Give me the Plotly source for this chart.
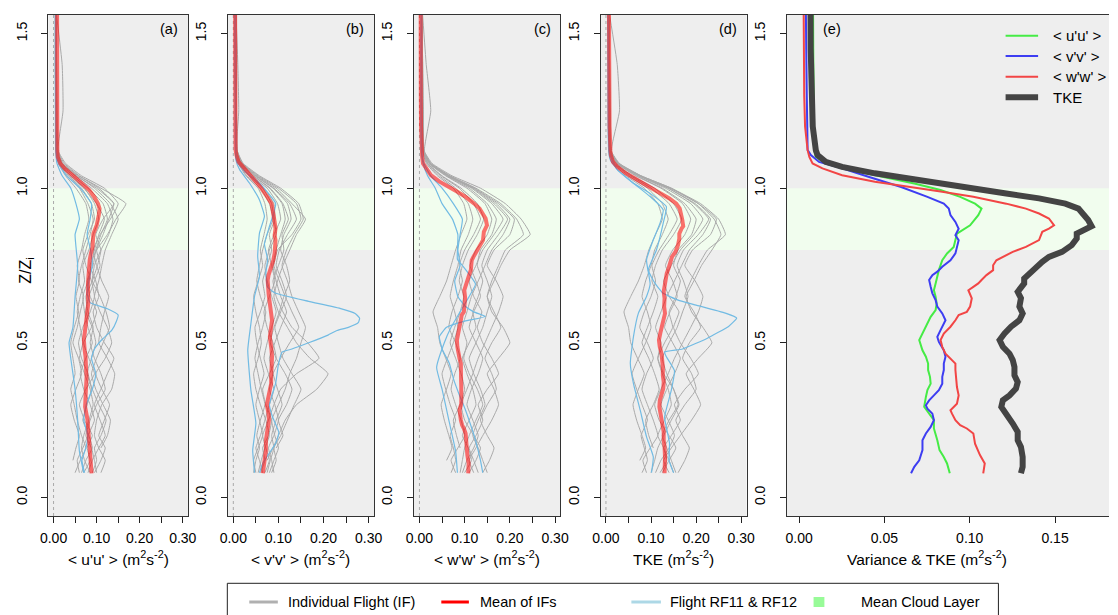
import plotly.graph_objects as go

W, H = 1118, 615

# ---------------- data ----------------
Z_LEVELS = [0.08, 0.12, 0.16, 0.20, 0.25, 0.30, 0.35, 0.40, 0.45, 0.50, 0.55, 0.60, 0.65,
            0.70, 0.75, 0.80, 0.85, 0.90, 0.95, 1.00, 1.04, 1.08, 1.12, 1.25, 1.40, 1.56]

UU_FLIGHTS = [
    [0.070,0.085,0.078,0.090,0.072,0.060,0.075,0.095,0.082,0.070,0.088,0.100,0.085,0.078,0.092,0.098,0.110,0.125,0.115,0.080,0.045,0.018,0.008,0.006,0.005,0.005],
    [0.095,0.110,0.120,0.105,0.118,0.130,0.112,0.098,0.120,0.135,0.125,0.108,0.095,0.105,0.112,0.120,0.135,0.150,0.132,0.095,0.055,0.022,0.010,0.008,0.007,0.006],
    [0.060,0.055,0.068,0.080,0.095,0.085,0.070,0.062,0.075,0.090,0.080,0.072,0.068,0.080,0.088,0.095,0.105,0.118,0.100,0.070,0.038,0.015,0.007,0.006,0.005,0.005],
    [None,0.045,0.052,0.060,0.048,0.040,0.052,0.065,0.058,0.045,0.055,0.062,0.070,0.058,0.065,0.075,0.085,0.092,0.080,0.060,0.032,0.013,0.006,0.005,0.004,0.004],
    [0.080,0.090,0.105,0.120,0.108,0.095,0.110,0.125,0.140,0.118,0.100,0.092,0.105,0.098,0.085,0.100,0.125,0.145,0.168,0.110,0.060,0.025,0.010,0.022,0.020,0.007],
    [0.100,0.095,0.088,0.075,0.085,0.100,0.120,0.110,0.095,0.085,0.092,0.080,0.075,0.090,0.102,0.110,0.098,0.115,0.140,0.105,0.058,0.020,0.009,0.007,0.006,0.006],
    [0.065,0.075,0.090,0.082,0.068,0.078,0.088,0.080,0.065,0.058,0.068,0.085,0.095,0.088,0.075,0.068,0.080,0.095,0.088,0.065,0.035,0.014,0.007,0.006,0.005,0.005],
    [None,None,0.110,0.125,0.132,0.115,0.098,0.088,0.100,0.115,0.130,0.122,0.108,0.090,0.095,0.110,0.128,0.138,0.125,0.088,0.050,0.019,0.008,0.006,0.006,0.005],
    [0.085,0.072,0.065,0.070,0.082,0.092,0.085,0.072,0.060,0.068,0.062,0.055,0.062,0.072,0.068,0.082,0.092,0.105,0.095,0.072,0.040,0.016,0.007,0.006,0.005,0.005],
    [0.110,0.120,0.105,0.095,0.100,0.112,0.135,0.142,0.125,0.105,0.110,0.118,0.128,0.112,0.100,0.092,0.108,0.132,0.150,0.118,0.065,0.028,0.011,0.008,0.007,0.006],
    [0.050,0.062,0.075,0.065,0.055,0.048,0.040,0.050,0.045,0.040,0.048,0.058,0.052,0.060,0.055,0.065,0.072,0.082,0.075,0.052,0.028,0.011,0.006,0.005,0.004,0.004],
    [0.090,0.100,0.095,0.110,0.122,0.105,0.090,0.078,0.088,0.098,0.090,0.075,0.082,0.095,0.108,0.100,0.115,0.128,0.140,0.100,0.052,0.020,0.009,0.007,0.006,0.006],
]

VV_FLIGHTS = [
    [0.060,0.070,0.065,0.078,0.085,0.072,0.065,0.080,0.095,0.088,0.075,0.068,0.080,0.092,0.085,0.078,0.090,0.105,0.098,0.075,0.040,0.015,0.007,0.006,0.005,0.005],
    [0.085,0.095,0.090,0.105,0.120,0.135,0.150,0.130,0.110,0.100,0.092,0.105,0.118,0.108,0.095,0.102,0.120,0.140,0.125,0.090,0.050,0.018,0.008,0.006,0.006,0.005],
    [0.045,0.050,0.058,0.052,0.060,0.070,0.062,0.055,0.048,0.055,0.065,0.072,0.060,0.052,0.058,0.065,0.075,0.088,0.080,0.060,0.030,0.012,0.006,0.005,0.004,0.004],
    [None,0.075,0.088,0.100,0.115,0.140,0.185,0.210,0.170,0.140,0.120,0.100,0.090,0.098,0.110,0.125,0.140,0.160,0.130,0.095,0.052,0.020,0.009,0.007,0.006,0.006],
    [0.070,0.080,0.072,0.065,0.078,0.090,0.105,0.140,0.190,0.165,0.130,0.110,0.095,0.088,0.100,0.112,0.108,0.122,0.110,0.082,0.045,0.016,0.007,0.012,0.010,0.006],
    [0.090,0.085,0.078,0.090,0.100,0.092,0.080,0.088,0.105,0.125,0.145,0.130,0.115,0.102,0.090,0.098,0.130,0.150,0.140,0.100,0.055,0.020,0.008,0.007,0.006,0.005],
    [0.055,0.062,0.070,0.080,0.072,0.060,0.050,0.045,0.055,0.062,0.058,0.050,0.045,0.055,0.065,0.060,0.068,0.075,0.070,0.055,0.028,0.011,0.005,0.005,0.004,0.004],
    [None,None,0.095,0.110,0.100,0.118,0.130,0.115,0.095,0.082,0.090,0.102,0.112,0.125,0.118,0.105,0.112,0.128,0.120,0.088,0.048,0.018,0.008,0.006,0.005,0.005],
    [0.065,0.058,0.050,0.060,0.070,0.080,0.090,0.078,0.068,0.075,0.085,0.095,0.085,0.075,0.070,0.080,0.095,0.090,0.085,0.065,0.035,0.013,0.006,0.005,0.005,0.004],
    [0.080,0.090,0.100,0.092,0.085,0.100,0.115,0.125,0.140,0.150,0.160,0.145,0.130,0.120,0.108,0.118,0.135,0.155,0.145,0.105,0.058,0.022,0.009,0.007,0.006,0.006],
    [0.050,0.045,0.055,0.065,0.058,0.050,0.058,0.068,0.060,0.052,0.048,0.060,0.070,0.065,0.075,0.085,0.080,0.092,0.090,0.068,0.036,0.014,0.006,0.005,0.005,0.004],
    [0.075,0.082,0.090,0.085,0.095,0.108,0.098,0.088,0.080,0.092,0.105,0.118,0.105,0.095,0.088,0.095,0.105,0.115,0.108,0.080,0.044,0.016,0.007,0.006,0.005,0.005],
]

WW_FLIGHTS = [
    [0.100,0.115,0.108,0.095,0.110,0.125,0.118,0.105,0.095,0.110,0.125,0.118,0.130,0.140,0.128,0.135,0.160,0.170,0.150,0.110,0.060,0.022,0.009,0.007,0.006,0.006],
    [0.140,0.155,0.165,0.150,0.135,0.150,0.170,0.160,0.145,0.160,0.180,0.165,0.150,0.160,0.175,0.190,0.230,0.215,0.180,0.125,0.068,0.025,0.010,0.008,0.007,0.006],
    [0.080,0.070,0.085,0.100,0.092,0.080,0.070,0.078,0.090,0.080,0.065,0.072,0.085,0.095,0.088,0.100,0.120,0.135,0.120,0.088,0.048,0.018,0.008,0.006,0.005,0.005],
    [None,0.060,0.072,0.065,0.055,0.048,0.060,0.070,0.058,0.045,0.040,0.030,0.045,0.060,0.070,0.080,0.092,0.105,0.098,0.075,0.040,0.015,0.007,0.005,0.005,0.004],
    [0.120,0.110,0.125,0.140,0.160,0.175,0.165,0.150,0.175,0.200,0.185,0.160,0.150,0.165,0.180,0.200,0.245,0.225,0.190,0.135,0.072,0.028,0.011,0.025,0.015,0.007],
    [0.095,0.105,0.120,0.130,0.118,0.105,0.115,0.130,0.140,0.125,0.110,0.120,0.135,0.125,0.112,0.125,0.150,0.160,0.145,0.105,0.058,0.021,0.009,0.007,0.006,0.005],
    [0.150,0.140,0.130,0.118,0.130,0.145,0.135,0.120,0.110,0.125,0.140,0.150,0.160,0.150,0.138,0.150,0.175,0.195,0.165,0.118,0.064,0.024,0.010,0.008,0.007,0.006],
    [None,None,0.090,0.082,0.075,0.090,0.100,0.092,0.080,0.068,0.078,0.090,0.098,0.088,0.095,0.108,0.128,0.142,0.128,0.092,0.050,0.019,0.008,0.006,0.005,0.005],
    [0.110,0.125,0.135,0.120,0.100,0.092,0.105,0.118,0.130,0.145,0.160,0.175,0.185,0.170,0.150,0.165,0.200,0.210,0.175,0.122,0.066,0.025,0.010,0.008,0.007,0.006],
    [0.070,0.080,0.075,0.068,0.080,0.068,0.058,0.050,0.062,0.075,0.085,0.078,0.068,0.075,0.085,0.092,0.108,0.118,0.108,0.080,0.044,0.017,0.007,0.006,0.005,0.005],
    [0.130,0.120,0.110,0.125,0.140,0.130,0.150,0.175,0.160,0.140,0.128,0.138,0.120,0.110,0.125,0.140,0.165,0.185,0.160,0.115,0.062,0.023,0.009,0.007,0.006,0.006],
    [0.090,0.095,0.100,0.110,0.125,0.140,0.128,0.110,0.098,0.105,0.095,0.105,0.115,0.130,0.145,0.160,0.185,0.200,0.170,0.120,0.065,0.024,0.010,0.007,0.006,0.006],
]

TKE_FLIGHTS = [
    [0.120,0.135,0.128,0.115,0.130,0.145,0.138,0.125,0.115,0.130,0.148,0.140,0.155,0.165,0.150,0.160,0.190,0.200,0.175,0.125,0.068,0.025,0.010,0.008,0.007,0.007],
    [0.160,0.175,0.185,0.170,0.155,0.175,0.200,0.190,0.170,0.185,0.210,0.195,0.175,0.188,0.205,0.225,0.265,0.250,0.210,0.145,0.078,0.028,0.011,0.009,0.008,0.007],
    [0.090,0.082,0.098,0.115,0.105,0.092,0.080,0.090,0.105,0.092,0.075,0.085,0.100,0.110,0.102,0.118,0.140,0.158,0.140,0.100,0.055,0.020,0.009,0.007,0.006,0.006],
    [None,0.075,0.088,0.080,0.068,0.060,0.072,0.085,0.070,0.055,0.050,0.040,0.055,0.072,0.085,0.095,0.110,0.125,0.115,0.085,0.045,0.017,0.007,0.006,0.005,0.005],
    [0.140,0.128,0.145,0.165,0.190,0.210,0.195,0.178,0.205,0.235,0.215,0.190,0.178,0.195,0.212,0.235,0.255,0.240,0.205,0.145,0.078,0.030,0.012,0.030,0.025,0.008],
    [0.110,0.122,0.140,0.152,0.138,0.122,0.135,0.152,0.165,0.148,0.130,0.142,0.158,0.148,0.132,0.148,0.175,0.188,0.170,0.122,0.066,0.024,0.010,0.008,0.007,0.006],
    [0.155,0.145,0.135,0.125,0.140,0.160,0.150,0.135,0.125,0.140,0.158,0.170,0.182,0.172,0.158,0.172,0.205,0.228,0.195,0.138,0.074,0.027,0.011,0.009,0.008,0.007],
    [None,None,0.105,0.095,0.088,0.105,0.118,0.108,0.095,0.080,0.092,0.105,0.115,0.102,0.110,0.125,0.150,0.168,0.150,0.108,0.058,0.022,0.009,0.007,0.006,0.006],
    [0.125,0.140,0.155,0.140,0.118,0.108,0.122,0.138,0.152,0.170,0.188,0.205,0.215,0.198,0.175,0.192,0.232,0.245,0.205,0.142,0.076,0.028,0.011,0.009,0.008,0.007],
    [0.080,0.092,0.085,0.078,0.092,0.080,0.068,0.058,0.072,0.088,0.100,0.092,0.080,0.088,0.100,0.108,0.125,0.138,0.125,0.092,0.050,0.019,0.008,0.006,0.006,0.005],
    [0.150,0.140,0.128,0.145,0.165,0.152,0.175,0.205,0.188,0.165,0.150,0.162,0.140,0.128,0.145,0.165,0.195,0.215,0.188,0.132,0.072,0.026,0.010,0.008,0.007,0.007],
    [0.100,0.108,0.115,0.128,0.145,0.162,0.150,0.128,0.115,0.122,0.110,0.122,0.135,0.152,0.168,0.185,0.215,0.232,0.198,0.138,0.074,0.027,0.011,0.008,0.007,0.007],
]

# Flights RF11 & RF12 (own height samples)
UU_RF11_Z = [0.08,0.12,0.16,0.20,0.25,0.30,0.35,0.40,0.45,0.48,0.51,0.54,0.57,0.59,0.61,0.63,0.66,0.70,0.75,0.80,0.85,0.90,0.95,1.00,1.04,1.08,1.12,1.56]
UU_RF11_X = [0.072,0.066,0.075,0.080,0.070,0.076,0.090,0.098,0.088,0.095,0.112,0.135,0.146,0.150,0.125,0.085,0.078,0.082,0.090,0.086,0.078,0.085,0.088,0.062,0.030,0.012,0.006,0.005]
UU_RF12_Z = [0.08,0.15,0.25,0.35,0.45,0.50,0.55,0.65,0.75,0.85,0.90,0.95,1.00,1.04,1.08,1.12,1.56]
UU_RF12_X = [0.070,0.060,0.056,0.050,0.040,0.036,0.045,0.050,0.056,0.050,0.060,0.052,0.040,0.020,0.008,0.005,0.004]

VV_RF11_Z = [0.08,0.11,0.175,0.21,0.26,0.30,0.37,0.43,0.47,0.48,0.50,0.525,0.54,0.55,0.565,0.58,0.595,0.61,0.634,0.66,0.68,0.725,0.77,0.82,0.876,0.95,1.016,1.06,1.09,1.12,1.56]
VV_RF11_X = [0.058,0.065,0.094,0.101,0.087,0.080,0.094,0.100,0.108,0.130,0.167,0.210,0.230,0.255,0.277,0.280,0.270,0.240,0.167,0.094,0.076,0.072,0.076,0.069,0.080,0.094,0.058,0.021,0.007,0.005,0.004]
VV_RF12_Z = [0.08,0.153,0.24,0.347,0.476,0.562,0.65,0.715,0.78,0.855,0.909,0.962,1.016,1.06,1.09,1.12,1.56]
VV_RF12_X = [0.047,0.043,0.050,0.039,0.032,0.039,0.047,0.058,0.054,0.058,0.069,0.058,0.036,0.014,0.006,0.005,0.004]

WW_RF11_Z = [0.08,0.12,0.185,0.218,0.282,0.336,0.38,0.434,0.477,0.52,0.55,0.57,0.585,0.60,0.62,0.65,0.70,0.75,0.80,0.85,0.90,0.95,1.00,1.04,1.08,1.12,1.56]
WW_RF11_X = [0.140,0.135,0.124,0.117,0.102,0.087,0.076,0.066,0.051,0.044,0.060,0.100,0.146,0.120,0.100,0.085,0.078,0.090,0.085,0.090,0.095,0.075,0.050,0.025,0.010,0.005,0.004]
WW_RF12_Z = [0.08,0.15,0.25,0.35,0.42,0.50,0.55,0.60,0.65,0.69,0.75,0.77,0.85,0.90,0.95,1.00,1.04,1.08,1.12,1.56]
WW_RF12_X = [0.084,0.080,0.065,0.050,0.038,0.055,0.070,0.090,0.110,0.124,0.095,0.084,0.085,0.073,0.050,0.035,0.018,0.008,0.004,0.004]

TKE_RF11_Z = [0.08,0.12,0.175,0.22,0.26,0.347,0.41,0.455,0.47,0.48,0.515,0.553,0.58,0.596,0.622,0.638,0.66,0.692,0.735,0.80,0.887,0.94,0.984,1.016,1.06,1.09,1.12,1.56]
TKE_RF11_X = [0.150,0.140,0.141,0.135,0.130,0.145,0.152,0.134,0.130,0.170,0.225,0.272,0.290,0.265,0.200,0.160,0.127,0.109,0.094,0.112,0.127,0.134,0.097,0.061,0.025,0.014,0.007,0.005]
TKE_RF12_Z = [0.08,0.131,0.196,0.282,0.368,0.434,0.52,0.596,0.65,0.69,0.768,0.833,0.887,0.93,0.973,1.016,1.06,1.09,1.12,1.56]
TKE_RF12_X = [0.101,0.105,0.090,0.076,0.061,0.054,0.061,0.072,0.090,0.098,0.090,0.105,0.120,0.127,0.098,0.061,0.025,0.010,0.006,0.005]

# Means of individual flights
MEAN_UU_Z = [0.078,0.110,0.131,0.153,0.185,0.207,0.223,0.250,0.271,0.293,0.325,0.347,0.368,0.390,0.412,0.433,0.455,0.476,0.509,0.530,
             0.562,0.584,0.606,0.627,0.649,0.670,0.692,0.713,0.735,0.767,0.789,0.810,0.853,0.880,0.913,0.934,0.950,0.972,0.994,1.015,
             1.042,1.064,1.080,1.101,1.123,1.20,1.30,1.45,1.56]
MEAN_UU_X = [0.0883,0.0867,0.0848,0.0823,0.0810,0.0800,0.0790,0.0790,0.0762,0.0733,0.0743,0.0752,0.0771,0.0767,0.0756,0.0756,0.0743,0.0723,0.0704,0.0723,
             0.0752,0.0771,0.0800,0.0806,0.0800,0.0790,0.0800,0.0810,0.0819,0.0839,0.0867,0.0906,0.0925,0.1002,0.1050,0.1069,0.1031,0.0944,0.0829,0.0675,
             0.0444,0.0252,0.0156,0.0098,0.0088,0.0086,0.0085,0.0083,0.0082]

MEAN_VV_Z = [0.078,0.099,0.120,0.153,0.185,0.207,0.228,0.250,0.271,0.287,0.298,0.314,0.330,0.347,0.368,0.390,0.412,0.433,0.455,0.476,
             0.503,0.519,0.541,0.573,0.595,0.617,0.638,0.660,0.681,0.703,0.719,0.730,0.746,0.767,0.789,0.810,0.832,0.848,0.869,0.891,
             0.913,0.934,0.950,0.972,1.004,1.037,1.064,1.085,1.107,1.123,1.20,1.30,1.45,1.56]
MEAN_VV_X = [0.0656,0.0675,0.0704,0.0723,0.0723,0.0743,0.0771,0.0790,0.0781,0.0752,0.0743,0.0762,0.0790,0.0819,0.0839,0.0839,0.0848,0.0848,0.0858,0.0848,
             0.0819,0.0810,0.0829,0.0858,0.0839,0.0810,0.0800,0.0781,0.0771,0.0762,0.0781,0.0810,0.0839,0.0887,0.0916,0.0925,0.0935,0.0916,0.0935,0.0916,
             0.0887,0.0877,0.0848,0.0752,0.0598,0.0406,0.0252,0.0117,0.0069,0.0050,0.0047,0.0045,0.0042,0.0040]

MEAN_WW_Z = [0.078,0.110,0.137,0.174,0.207,0.223,0.234,0.250,0.271,0.282,0.303,0.330,0.357,0.379,0.412,0.433,0.449,0.465,0.487,0.509,
             0.530,0.552,0.573,0.590,0.600,0.617,0.644,0.670,0.681,0.692,0.703,0.719,0.735,0.751,0.767,0.778,0.794,0.810,0.832,0.859,
             0.869,0.880,0.902,0.918,0.934,0.950,0.972,0.989,1.004,1.021,1.042,1.064,1.080,1.101,1.123,1.20,1.30,1.45,1.56]
MEAN_WW_X = [0.1079,0.1088,0.1060,0.1031,0.1021,0.0983,0.0944,0.0916,0.0896,0.0887,0.0925,0.0935,0.0925,0.0921,0.0916,0.0916,0.0887,0.0858,0.0839,0.0829,
             0.0848,0.0887,0.0916,0.0935,0.0983,0.1002,0.1012,0.0992,0.1021,0.1050,0.1069,0.1098,0.1137,0.1137,0.1156,0.1194,0.1252,0.1329,0.1406,0.1425,
             0.1464,0.1494,0.1464,0.1406,0.1329,0.1214,0.1021,0.0829,0.0637,0.0444,0.0252,0.0137,0.0079,0.0060,0.0050,0.0035,0.0030,0.0028,0.0027]

MEAN_TKE_Z = [0.078,0.099,0.131,0.163,0.185,0.212,0.239,0.266,0.293,0.314,0.330,0.352,0.373,0.395,0.422,0.444,0.465,0.487,0.509,0.530,
              0.552,0.573,0.595,0.617,0.644,0.665,0.681,0.692,0.708,0.724,0.740,0.762,0.778,0.794,0.816,0.837,0.853,0.869,0.877,0.897,
              0.918,0.934,0.950,0.967,0.983,0.999,1.015,1.032,1.048,1.069,1.085,1.107,1.123,1.20,1.30,1.45,1.56]
MEAN_TKE_X = [0.1300,0.1310,0.1310,0.1300,0.1281,0.1281,0.1252,0.1214,0.1185,0.1194,0.1233,0.1271,0.1281,0.1262,0.1262,0.1252,0.1233,0.1194,0.1175,0.1204,
              0.1242,0.1291,0.1310,0.1291,0.1300,0.1281,0.1300,0.1319,0.1319,0.1348,0.1387,0.1425,0.1464,0.1541,0.1598,0.1627,0.1627,0.1675,0.1714,0.1694,
              0.1666,0.1637,0.1560,0.1406,0.1214,0.1021,0.0829,0.0637,0.0444,0.0252,0.0156,0.0108,0.0098,0.0080,0.0072,0.0068,0.0067]

CLOUD_BASE, CLOUD_TOP = 0.8, 1.0

X_TICKS_AD = [0.0, 0.10, 0.20, 0.30]
X_LABELS_AD = ["0.00", "0.10", "0.20", "0.30"]
X_MINOR_AD = [0.05, 0.15, 0.25]
X_TICKS_E = [0.0, 0.05, 0.10, 0.15]
X_LABELS_E = ["0.00", "0.05", "0.10", "0.15"]
Y_TICKS = [0.0, 0.5, 1.0, 1.5]
Y_LABELS = ["0.0", "0.5", "1.0", "1.5"]

PANEL_TAGS = ["(a)", "(b)", "(c)", "(d)", "(e)"]
X_TITLES = ["&lt; u'u' &gt; (m<sup>2</sup>s<sup>-2</sup>)",
            "&lt; v'v' &gt; (m<sup>2</sup>s<sup>-2</sup>)",
            "&lt; w'w' &gt; (m<sup>2</sup>s<sup>-2</sup>)",
            "TKE (m<sup>2</sup>s<sup>-2</sup>)",
            "Variance &amp; TKE (m<sup>2</sup>s<sup>-2</sup>)"]

# ---------------- styling / layout ----------------
FONT = "Liberation Sans, Arial, sans-serif"
FS = 14.5
GREY = "#A9A9A9"
SKY = "#72BBE3"
MEAN_RED = "rgba(255,0,0,0.55)"
E_COLORS = ["#45EB45", "#3D3DF2", "#F24545", "#444444"]
E_WIDTHS = [2, 2, 2, 6]
E_NAMES = ["&lt; u'u' &gt;", "&lt; v'v' &gt;", "&lt; w'w' &gt;", "TKE"]

def fx(px):
    return px / W

def fy(py):
    return 1 - py / H

# panel pixel extents (left, right)
PANEL_PX = [(41.0, 182.7), (223.3, 371.7), (412.3, 561.0), (601.7, 750.0), (791.0, 1118.0)]
TOP_PX, BOT_PX = 15.0, 516.0
Y_RANGE = [-0.06, 1.56]
X_RANGE_AD = [-0.012, 0.312]
X_RANGE_E = [-0.0071, 0.1816]

fig = go.Figure()

flight_sets = [UU_FLIGHTS, VV_FLIGHTS, WW_FLIGHTS, TKE_FLIGHTS]
rf_sets = [((UU_RF11_Z, UU_RF11_X), (UU_RF12_Z, UU_RF12_X)),
           ((VV_RF11_Z, VV_RF11_X), (VV_RF12_Z, VV_RF12_X)),
           ((WW_RF11_Z, WW_RF11_X), (WW_RF12_Z, WW_RF12_X)),
           ((TKE_RF11_Z, TKE_RF11_X), (TKE_RF12_Z, TKE_RF12_X))]
means = [(MEAN_UU_Z, MEAN_UU_X), (MEAN_VV_Z, MEAN_VV_X), (MEAN_WW_Z, MEAN_WW_X), (MEAN_TKE_Z, MEAN_TKE_X)]

shapes = []
annotations = []
tickfont = dict(family=FONT, size=14, color="black")
txtfont = dict(family=FONT, size=FS, color="black")

for i in range(5):
    n = i + 1
    xa = "x" if n == 1 else f"x{n}"
    ya = "y" if n == 1 else f"y{n}"
    xkey = "xaxis" if n == 1 else f"xaxis{n}"
    ykey = "yaxis" if n == 1 else f"yaxis{n}"
    l, r = PANEL_PX[i]
    is_e = (i == 4)
    xax = dict(domain=[fx(l), fx(r)], range=X_RANGE_E if is_e else X_RANGE_AD,
               anchor=ya, tickmode="array",
               tickvals=X_TICKS_E if is_e else X_TICKS_AD,
               ticktext=X_LABELS_E if is_e else X_LABELS_AD,
               ticks="outside", ticklen=6, tickwidth=1, tickcolor="#222",
               showline=True, mirror=True, linecolor="#333", linewidth=1,
               showgrid=False, zeroline=False, tickfont=tickfont,
               ticklabelstandoff=3, fixedrange=True)
    if not is_e:
        xax["minor"] = dict(tickmode="array", tickvals=X_MINOR_AD, ticks="outside",
                            ticklen=6, tickwidth=1, tickcolor="#222", showgrid=False)
    fig.update_layout(**{
        xkey: xax,
        ykey: dict(domain=[fy(BOT_PX), fy(TOP_PX)], range=Y_RANGE, anchor=xa,
                   tickmode="array", tickvals=Y_TICKS, ticktext=Y_LABELS, tickangle=-90,
                   ticks="outside", ticklen=6, tickwidth=1, tickcolor="#222",
                   showline=True, mirror=(not is_e), linecolor="#333", linewidth=1,
                   showgrid=False, zeroline=False, tickfont=tickfont,
                   ticklabelstandoff=9, fixedrange=True),
    })
    # cloud layer band
    shapes.append(dict(type="rect", xref=f"{xa} domain", yref=ya, x0=0, x1=1,
                       y0=CLOUD_BASE, y1=CLOUD_TOP, fillcolor="#F1FDEE",
                       line=dict(width=0), layer="below"))
    if not is_e:
        shapes.append(dict(type="line", xref=xa, yref=f"{ya} domain", x0=0, x1=0, y0=0, y1=1,
                           line=dict(color="#AAAAAA", width=1, dash="dot"), layer="below"))
        for fl in flight_sets[i]:
            fig.add_trace(go.Scatter(x=fl, y=Z_LEVELS, mode="lines", xaxis=xa, yaxis=ya,
                                     line=dict(color=GREY, width=1, shape="spline", smoothing=0.4),
                                     hoverinfo="skip", showlegend=False))
        for (zz, xx) in rf_sets[i]:
            fig.add_trace(go.Scatter(x=xx, y=zz, mode="lines", xaxis=xa, yaxis=ya,
                                     line=dict(color=SKY, width=1.2, shape="spline", smoothing=0.4),
                                     hoverinfo="skip", showlegend=False))
        mz, mx = means[i]
        fig.add_trace(go.Scatter(x=mx, y=mz, mode="lines", xaxis=xa, yaxis=ya,
                                 line=dict(color=MEAN_RED, width=4),
                                 hoverinfo="skip", showlegend=False))
        annotations.append(dict(text=PANEL_TAGS[i], xref="paper", yref="paper", x=fx(r - 8), y=fy(29),
                                xanchor="right", yanchor="middle", showarrow=False, font=txtfont))
        cx = fx((l + r) / 2)
    else:
        for k, (mz, mx) in enumerate(means):
            fig.add_trace(go.Scatter(x=mx, y=mz, mode="lines", xaxis=xa, yaxis=ya,
                                     line=dict(color=E_COLORS[k], width=E_WIDTHS[k]),
                                     hoverinfo="skip", showlegend=False))
        annotations.append(dict(text=PANEL_TAGS[i], xref="paper", yref="paper", x=fx(837), y=fy(29),
                                xanchor="center", yanchor="middle", showarrow=False, font=txtfont))
        cx = fx(933)
    annotations.append(dict(text=X_TITLES[i], xref="paper", yref="paper", x=cx, y=fy(558),
                            xanchor="center", yanchor="middle", showarrow=False,
                            font=dict(family=FONT, size=15.5, color="black")))

# y title
annotations.append(dict(text="Z/Z<sub>i</sub>", xref="paper", yref="paper", x=fx(19), y=fy(270),
                        xanchor="center", yanchor="middle", textangle=-90, showarrow=False,
                        font=dict(family=FONT, size=16, color="black")))

# legend of panel (e)
for k in range(4):
    yy = [35.7, 56.0, 76.7, 97.3][k]
    shapes.append(dict(type="line", xref="paper", yref="paper", x0=fx(1013), x1=fx(1046),
                       y0=fy(yy), y1=fy(yy), line=dict(color=E_COLORS[k], width=E_WIDTHS[k])))
    annotations.append(dict(text=E_NAMES[k], xref="paper", yref="paper", x=fx(1059), y=fy(yy),
                            xanchor="left", yanchor="middle", showarrow=False,
                            font=dict(family=FONT, size=15, color="black")))

# bottom legend
shapes.append(dict(type="rect", xref="paper", yref="paper", x0=fx(222.7), x1=fx(1005.7),
                   y0=fy(583.3), y1=fy(640), line=dict(color="#222", width=1), fillcolor="white"))
LEG_Y = 602
leg_items = [("line", 245, 274, "#B0B0B0", "Individual Flight (IF)", 282),
             ("line", 440, 468, "#FF0000", "Mean of IFs", 477),
             ("line", 633, 663, "#ADD8E6", "Flight RF11 &amp; RF12", 670),
             ("rect", 818, 829, "#98FB98", "Mean Cloud Layer", 864)]
for kind, a, b, col, label, tx in leg_items:
    if kind == "line":
        shapes.append(dict(type="line", xref="paper", yref="paper", x0=fx(a), x1=fx(b),
                           y0=fy(LEG_Y), y1=fy(LEG_Y), line=dict(color=col, width=3)))
    else:
        shapes.append(dict(type="rect", xref="paper", yref="paper", x0=fx(a), x1=fx(b),
                           y0=fy(LEG_Y + 5), y1=fy(LEG_Y - 5), fillcolor=col, line=dict(width=0)))
    annotations.append(dict(text=label, xref="paper", yref="paper", x=fx(tx), y=fy(LEG_Y),
                            xanchor="left", yanchor="middle", showarrow=False, font=txtfont))

fig.update_layout(width=W, height=H, margin=dict(l=0, r=0, t=0, b=0),
                  paper_bgcolor="white", plot_bgcolor="#EEEEEE", showlegend=False,
                  shapes=shapes, annotations=annotations,
                  font=dict(family=FONT, size=14, color="black"))

fig.write_html("out.html")
